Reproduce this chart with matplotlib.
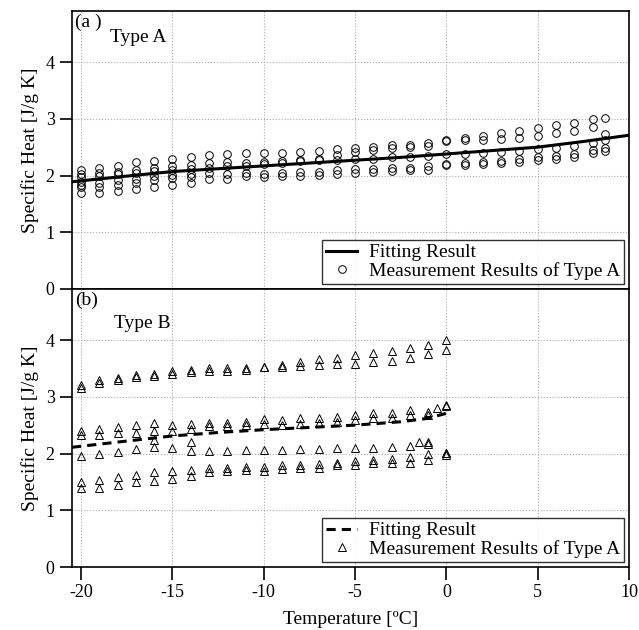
import numpy as np
import matplotlib
matplotlib.use("Agg")
import matplotlib.pyplot as plt

plt.rcParams['font.family'] = ['Liberation Serif', 'DejaVu Serif']

# Type A measurements (temperature in degC, specific heat in J/g K)
temp_a = [-20, -19, -18, -17, -16, -15, -14, -13, -12, -11, -10, -9, -8, -7, -6,
          -5, -4, -3, -2, -1, 0, 1, 2, 3, 4, 5, 6, 7, 8, 8.7]
a1 = [2.09, 2.13, 2.17, 2.23, 2.26, 2.30, 2.33, 2.37, 2.38, 2.39, 2.39, 2.40, 2.42, 2.44, 2.47,
      2.48, 2.51, 2.53, 2.54, 2.57, 2.62, 2.66, 2.70, 2.75, 2.79, 2.83, 2.89, 2.93, 2.99, 3.02]
a2 = [2.03, 2.04, 2.07, 2.10, 2.14, 2.16, 2.19, 2.22, 2.24, 2.22, 2.23, 2.26, 2.27, 2.30, 2.37,
      2.41, 2.45, 2.48, 2.50, 2.52, 2.60, 2.62, 2.62, 2.65, 2.67, 2.70, 2.75, 2.79, 2.86, 2.73]
a3 = [1.98, 1.99, 2.02, 2.05, 2.08, 2.10, 2.12, 2.14, 2.16, 2.17, 2.20, 2.22, 2.25, 2.27, 2.28,
      2.29, 2.30, 2.32, 2.33, 2.35, 2.38, 2.38, 2.40, 2.42, 2.43, 2.46, 2.49, 2.52, 2.58, 2.63]
a4 = [1.89, 1.86, 1.92, 1.94, 1.99, 2.01, 2.03, 2.04, 2.03, 2.04, 2.03, 2.05, 2.06, 2.07, 2.09,
      2.11, 2.12, 2.13, 2.14, 2.16, 2.20, 2.22, 2.24, 2.26, 2.29, 2.32, 2.34, 2.38, 2.45, 2.48]
a5 = [1.79, 1.79, 1.83, 1.87, 1.92, 1.95, 1.97, 1.94, 1.94, 1.99, 1.97, 1.99, 1.99, 2.01, 2.03,
      2.05, 2.07, 2.08, 2.09, 2.10, 2.18, 2.19, 2.20, 2.22, 2.24, 2.27, 2.30, 2.33, 2.40, 2.43]
a6_temp = [-20, -20, -19, -18, -17, -16, -15, -14]
a6 = [1.70, 1.83, 1.70, 1.73, 1.76, 1.79, 1.83, 1.87]

fit_a_temp = [-20.5, -17.5, -15, -12.5, -10, -7.5, -5, -2.5, 0, 2.5, 5, 7.5, 10]
fit_a = [1.89, 1.99, 2.07, 2.12, 2.17, 2.22, 2.27, 2.32, 2.38, 2.44, 2.50, 2.60, 2.71]

# Type B measurements
temp_b = [-20, -19, -18, -17, -16, -15, -14, -13, -12, -11, -10, -9, -8, -7, -6,
          -5, -4, -3, -2, -1, 0]
b1 = [3.21, 3.29, 3.33, 3.39, 3.41, 3.45, 3.48, 3.50, 3.50, 3.51, 3.52, 3.56, 3.62, 3.67, 3.69,
      3.73, 3.78, 3.81, 3.86, 3.91, 4.00]
b2 = [3.15, 3.24, 3.29, 3.34, 3.37, 3.41, 3.44, 3.45, 3.46, 3.48, 3.52, 3.52, 3.55, 3.56, 3.57,
      3.58, 3.62, 3.63, 3.68, 3.76, 3.82]
b3 = [2.39, 2.43, 2.46, 2.50, 2.53, 2.50, 2.52, 2.53, 2.54, 2.56, 2.60, 2.59, 2.62, 2.62, 2.65,
      2.68, 2.71, 2.72, 2.77, 2.74, 2.86]
b4 = [2.33, 2.33, 2.36, 2.37, 2.39, 2.39, 2.44, 2.48, 2.49, 2.50, 2.52, 2.50, 2.52, 2.54, 2.56,
      2.59, 2.62, 2.62, 2.68, 2.68, 2.83]
b5 = [1.96, 1.99, 2.03, 2.08, 2.11, 2.09, 2.05, 2.05, 2.05, 2.06, 2.06, 2.07, 2.08, 2.08, 2.09,
      2.10, 2.10, 2.12, 2.14, 2.17, 2.01]
b6 = [1.50, 1.53, 1.58, 1.63, 1.67, 1.70, 1.71, 1.74, 1.74, 1.77, 1.77, 1.80, 1.80, 1.82, 1.84,
      1.86, 1.89, 1.90, 1.93, 1.99, 2.01]
b7 = [1.39, 1.40, 1.45, 1.49, 1.52, 1.55, 1.61, 1.67, 1.70, 1.71, 1.70, 1.72, 1.74, 1.74, 1.80,
      1.80, 1.83, 1.83, 1.83, 1.89, 1.98]
b8_temp = [-16, -14, -1.5, -1, -0.5]
b8 = [2.24, 2.21, 2.20, 2.21, 2.80]

fit_b_temp = [-20.5, -17.5, -15, -12.5, -10, -7.5, -5, -2.5, -1, 0]
fit_b = [2.11, 2.22, 2.31, 2.37, 2.42, 2.46, 2.50, 2.56, 2.62, 2.71]

xticks = [-20, -15, -10, -5, 0, 5, 10]
yticks = [0, 1, 2, 3, 4]

fig = plt.figure(figsize=(6.39, 6.30), dpi=100)
ax1 = fig.add_axes([0.1127, 0.5413, 0.8717, 0.4412])
ax2 = fig.add_axes([0.1127, 0.1, 0.8717, 0.4413])

mk = dict(linestyle='none', markerfacecolor='none', markeredgecolor='black', markeredgewidth=0.7)

# panel (a)
line_a, = ax1.plot(fit_a_temp, fit_a, color='black', lw=2.2, zorder=3)
pts_a, = ax1.plot(temp_a, a1, marker='o', markersize=5.5, **mk)
for s in [a2, a3, a4, a5]:
    ax1.plot(temp_a, s, marker='o', markersize=5.5, **mk)
ax1.plot(a6_temp, a6, marker='o', markersize=5.5, **mk)

# panel (b)
line_b, = ax2.plot(fit_b_temp, fit_b, color='black', lw=2.2, ls=(0, (3, 2)), zorder=3)
pts_b, = ax2.plot(temp_b, b1, marker='^', markersize=5.5, **mk)
for s in [b2, b3, b4, b5, b6, b7]:
    ax2.plot(temp_b, s, marker='^', markersize=5.5, **mk)
ax2.plot(b8_temp, b8, marker='^', markersize=5.5, **mk)

for ax in [ax1, ax2]:
    ax.set_xlim(-20.5, 10)
    ax.set_ylim(0, 4.9)
    ax.set_xticks(xticks)
    ax.set_yticks(yticks)
    ax.grid(True, color='#aaaaaa', ls=':', lw=0.8)
    ax.set_axisbelow(True)
    ax.tick_params(direction='out', length=9, width=1.2, labelsize=13)
    for sp in ax.spines.values():
        sp.set_linewidth(1.2)
    ax.set_ylabel('Specific Heat [J/g K]', fontsize=14, labelpad=5)

ax1.tick_params(axis='x', length=0, labelbottom=False)
ax2.set_xticklabels([str(t) for t in xticks])
ax2.set_xlabel('Temperature [ºC]', fontsize=14, labelpad=7)

ax1.text(0.006, 0.99, '(a )', transform=ax1.transAxes, fontsize=14, va='top')
ax1.text(0.068, 0.935, 'Type A', transform=ax1.transAxes, fontsize=14, va='top')
ax2.text(0.006, 0.99, '(b)', transform=ax2.transAxes, fontsize=14, va='top')
ax2.text(0.075, 0.905, 'Type B', transform=ax2.transAxes, fontsize=14, va='top')

for ax, h, lab in [(ax1, [line_a, pts_a], 'Fitting Result'), (ax2, [line_b, pts_b], 'Fitting Result')]:
    leg = ax.legend(h, [lab, 'Measurement Results of Type A'], loc='lower right',
                    fontsize=14, frameon=True, fancybox=False, borderaxespad=0.25,
                    handlelength=1.6, handletextpad=0.6, borderpad=0.2, labelspacing=0.05)
    leg.get_frame().set_edgecolor('black')
    leg.get_frame().set_linewidth(1.0)

fig.savefig('out.png', dpi=100)
